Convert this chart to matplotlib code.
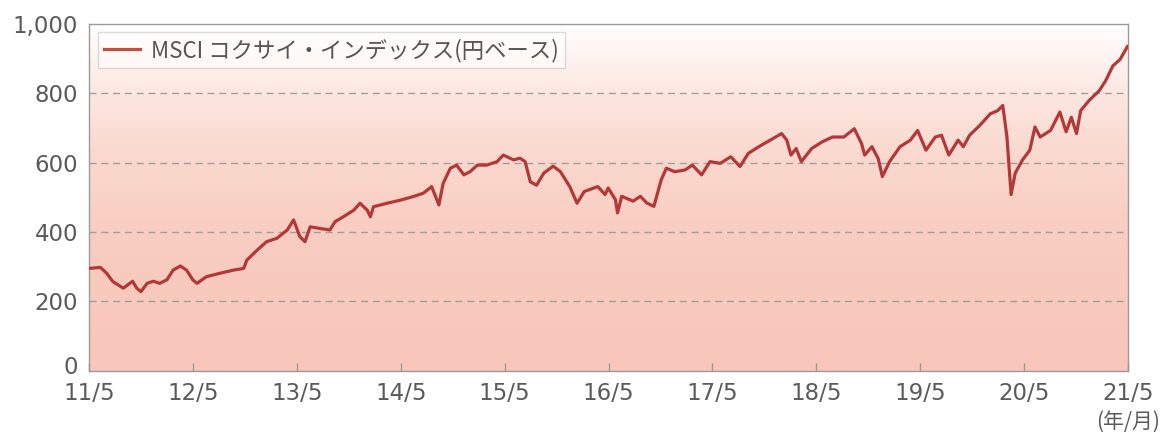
import numpy as np
import matplotlib
matplotlib.use("Agg")
import matplotlib.pyplot as plt
from matplotlib.colors import LinearSegmentedColormap
from matplotlib.transforms import ScaledTranslation

# ---- data (decimal years, index values) ----
years = [
    2011.33, 2011.44, 2011.50, 2011.56, 2011.66, 2011.75, 2011.79, 2011.83, 2011.89, 2011.95,
    2012.01, 2012.08, 2012.14, 2012.21, 2012.27, 2012.33, 2012.37, 2012.46, 2012.59, 2012.72,
    2012.82, 2012.85, 2012.95, 2013.04, 2013.14, 2013.24, 2013.30, 2013.36, 2013.41, 2013.46,
    2013.56, 2013.65, 2013.70, 2013.78, 2013.88, 2013.94, 2014.01, 2014.04, 2014.07, 2014.20,
    2014.33, 2014.45, 2014.55, 2014.63, 2014.70, 2014.74, 2014.81, 2014.87, 2014.94, 2015.00,
    2015.07, 2015.16, 2015.26, 2015.32, 2015.42, 2015.48, 2015.53, 2015.58, 2015.64, 2015.71,
    2015.80, 2015.87, 2015.96, 2016.03, 2016.10, 2016.23, 2016.30, 2016.33, 2016.40, 2016.42,
    2016.46, 2016.57, 2016.64, 2016.70, 2016.77, 2016.84, 2016.89, 2016.97, 2017.07, 2017.14,
    2017.23, 2017.31, 2017.41, 2017.51, 2017.60, 2017.68, 2017.78, 2017.89, 2018.00, 2018.05,
    2018.09, 2018.14, 2018.19, 2018.29, 2018.39, 2018.49, 2018.60, 2018.70, 2018.77, 2018.80,
    2018.87, 2018.93, 2018.97, 2019.04, 2019.14, 2019.24, 2019.31, 2019.39, 2019.48, 2019.54,
    2019.61, 2019.70, 2019.75, 2019.81, 2019.91, 2020.01, 2020.08, 2020.13, 2020.17, 2020.21,
    2020.25, 2020.32, 2020.39, 2020.44, 2020.49, 2020.59, 2020.68, 2020.74, 2020.79, 2020.84,
    2020.88, 2020.96, 2021.06, 2021.12, 2021.19, 2021.26, 2021.33,
]
values = [
    295, 298, 281, 257, 238, 258, 238, 228, 252, 258,
    252, 262, 290, 302, 290, 262, 252, 271, 281, 290,
    295, 319, 348, 372, 382, 406, 435, 387, 372, 415,
    410, 406, 430, 444, 463, 483, 463, 444, 473, 483,
    492, 502, 512, 531, 478, 540, 584, 593, 565, 574,
    593, 593, 603, 622, 608, 613, 603, 545, 535, 570,
    590, 574, 531, 483, 517, 531, 508, 527, 493, 455,
    503, 489, 503, 484, 474, 550, 584, 574, 579, 593,
    565, 603, 598, 617, 589, 627, 646, 665, 684, 665,
    622, 641, 603, 641, 660, 674, 674, 698, 655, 622,
    646, 612, 560, 603, 646, 665, 693, 636, 674, 679,
    622, 665, 646, 679, 708, 741, 750, 765, 674, 508,
    570, 608, 636, 703, 674, 693, 746, 689, 731, 684,
    750, 779, 808, 836, 879, 898, 935,
]
series_label = "MSCI コクサイ・インデックス(円ベース)"
xtick_pos = [2011.333 + i for i in range(11)]
xtick_labels = ["11/5", "12/5", "13/5", "14/5", "15/5", "16/5",
                "17/5", "18/5", "19/5", "20/5", "21/5"]
ytick_pos = [0, 200, 400, 600, 800, 1000]
ytick_labels = ["0", "200", "400", "600", "800", "1,000"]
unit_label = "(年/月)"

# ---- figure ----
W, H = 1168, 432
fig = plt.figure(figsize=(W / 100, H / 100), dpi=100)
L, R, T, B = 89.3, 1127.7, 24.0, 370.7
ax = fig.add_axes([L / W, 1 - B / H, (R - L) / W, (B - T) / H])

x0, x1 = xtick_pos[0], xtick_pos[-1]
ax.set_xlim(x0, x1)
ax.set_ylim(0, 1000)

# background gradient
stops = [(0.0, (248/255, 198/255, 186/255)),
         (0.40, (249/255, 205/255, 193/255)),
         (0.60, (250/255, 215/255, 205/255)),
         (0.80, (252/255, 231/255, 224/255)),
         (1.0, (1.0, 1.0, 1.0))]
cmap = LinearSegmentedColormap.from_list("bg", stops)
grad = np.linspace(0, 1, 256).reshape(-1, 1)
ax.imshow(grad, cmap=cmap, aspect="auto", origin="lower",
          extent=[x0, x1, 0, 1000], zorder=0, interpolation="bilinear")

# grid
for yv in [200, 400, 600, 800]:
    ax.axhline(yv, color="#a0a0a0", lw=1.0, ls=(0, (5, 3.5)), zorder=1)

line_color = "#b33838"
ax.plot(years, values, color=line_color, lw=2.3, zorder=3, label=series_label,
        solid_joinstyle="round")

for s in ax.spines.values():
    s.set_color("#9a9a9a")
    s.set_linewidth(1.0)

tick_color = "#5a5a5a"
ax.set_xticks(xtick_pos)
ax.set_xticklabels(xtick_labels)
ax.set_yticks(ytick_pos)
ax.set_yticklabels(ytick_labels)
ax.tick_params(axis="x", direction="in", length=6, width=1, color="#9a9a9a",
               pad=8, labelsize=16.5, labelcolor=tick_color)
ax.tick_params(axis="y", length=0, pad=8, labelsize=16.5, labelcolor=tick_color)
for lab in ax.get_xticklabels() + ax.get_yticklabels():
    lab.set_family(["DejaVu Sans"])
# nudge the "0" label up slightly, as in the reference
zero_lab = ax.get_yticklabels()[0]
zero_lab.set_transform(zero_lab.get_transform() + ScaledTranslation(0, 4 / 72, fig.dpi_scale_trans))

ax.text(1.0, -0.115, unit_label, transform=ax.transAxes, ha="center", va="top",
        fontsize=15, color=tick_color, family=["Noto Sans CJK JP", "DejaVu Sans"])

leg = ax.legend(loc="upper left", bbox_to_anchor=(8.7 / (R - L), 1 - 8 / (B - T)),
                borderaxespad=0, frameon=True, fancybox=False, handlelength=1.6,
                handletextpad=0.5, borderpad=0.28,
                prop={"family": ["Noto Sans CJK JP", "DejaVu Sans"], "size": 16.1})
leg.get_frame().set_edgecolor("#c0c0c0")
leg.get_frame().set_facecolor("white")
leg.get_frame().set_alpha(0.55)
leg.get_frame().set_linewidth(1.0)
for t in leg.get_texts():
    t.set_color("#555555")
leg.get_lines()[0].set_color("#c0503f")

fig.savefig("out.png", dpi=100)
